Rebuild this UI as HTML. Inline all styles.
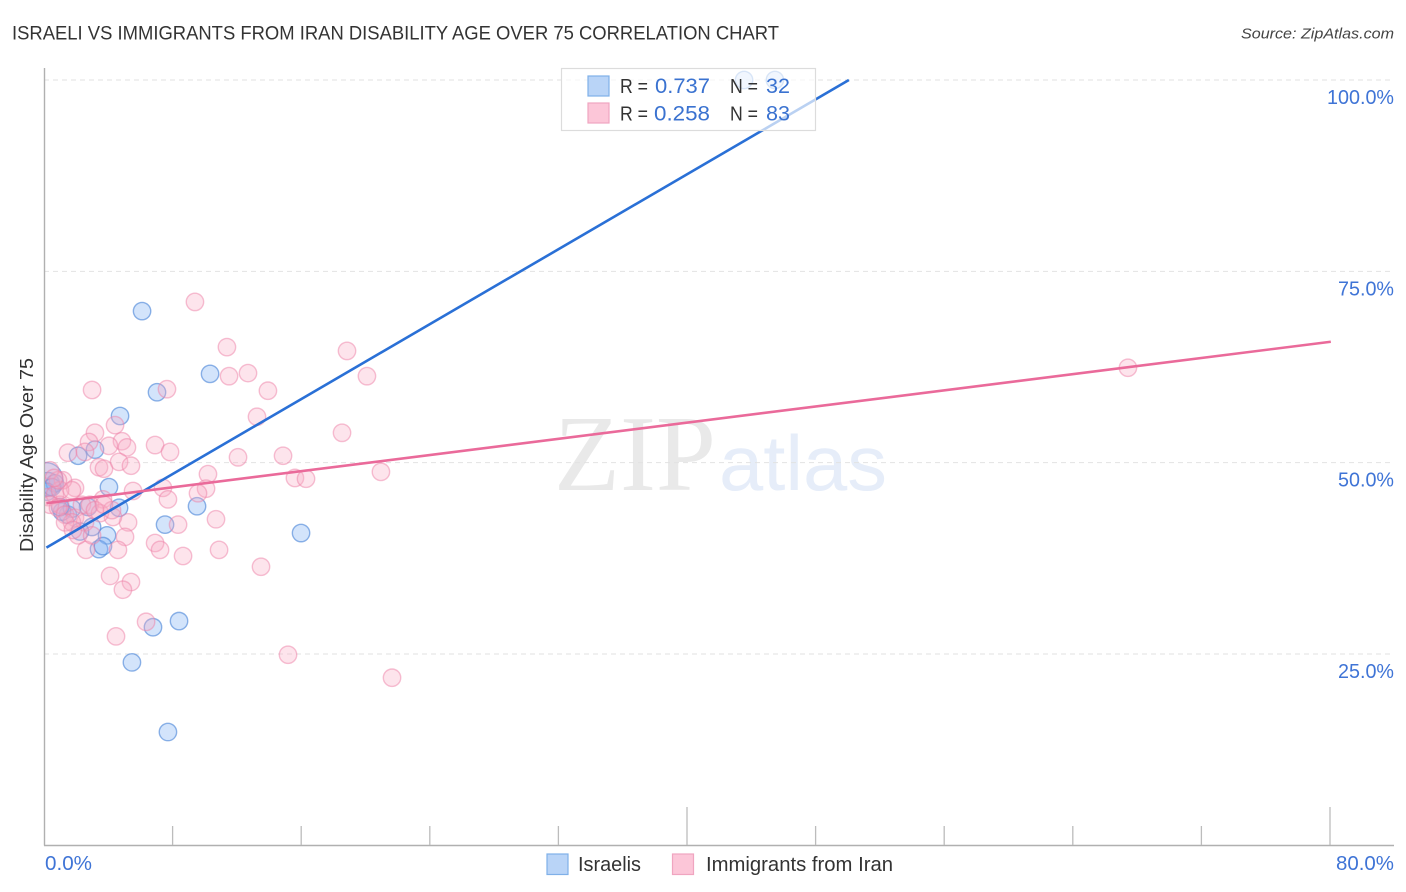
<!DOCTYPE html>
<html lang="en">
<head>
<meta charset="utf-8">
<title>Israeli vs Immigrants from Iran Disability Age Over 75 Correlation Chart</title>
<style>
html,body{margin:0;padding:0;background:#fff;width:1406px;height:892px;overflow:hidden}
svg{display:block;font-family:"Liberation Sans",sans-serif}
</style>
</head>
<body>
<svg id="chart" width="1406" height="892" viewBox="0 0 1406 892" xmlns="http://www.w3.org/2000/svg">
  <defs>
    <clipPath id="plot-clip"><rect x="45" y="60" width="1349" height="785"/></clipPath>
  </defs>
  <text x="12" y="39.5" font-size="19" fill="#333" textLength="767" lengthAdjust="spacingAndGlyphs">ISRAELI VS IMMIGRANTS FROM IRAN DISABILITY AGE OVER 75 CORRELATION CHART</text>
  <text x="1241" y="38.5" font-size="15" font-style="italic" fill="#444" textLength="153" lengthAdjust="spacingAndGlyphs">Source: ZipAtlas.com</text>
  <g>
    <text x="554" y="490" font-family="'Liberation Serif',serif" font-size="108" fill="#e9e9e9" textLength="162" lengthAdjust="spacingAndGlyphs">ZIP</text>
    <text x="719" y="490" font-size="78" fill="#e6edf9" textLength="168" lengthAdjust="spacingAndGlyphs">atlas</text>
  </g>
  <g id="grid"></g>
  <g id="axes"></g>
  <g id="blue-points" clip-path="url(#plot-clip)"></g>
  <g id="pink-points" clip-path="url(#plot-clip)"></g>
  <g id="trends"></g>
  <text transform="translate(33,455) rotate(-90)" font-size="18" fill="#333" text-anchor="middle" textLength="194" lengthAdjust="spacingAndGlyphs">Disability Age Over 75</text>
  <g id="tick-labels"></g>
  <g>
    <rect x="561.5" y="68.5" width="254" height="62" fill="#fff" fill-opacity="0.68" stroke="#dcdcdc" stroke-width="1.2"/>
    <rect x="588" y="76" width="21" height="20" fill="#b9d4f7" stroke="#7fb0e8" stroke-width="1.2"/>
    <rect x="588" y="103" width="21" height="20" fill="#fcc6d8" stroke="#f0a5c0" stroke-width="1.2"/>
    <text x="620" y="93" font-size="20" fill="#333" textLength="28" lengthAdjust="spacingAndGlyphs">R =</text>
    <text x="655" y="93" font-size="21" fill="#3a72d0" textLength="55" lengthAdjust="spacingAndGlyphs">0.737</text>
    <text x="730" y="93" font-size="20" fill="#333" textLength="28" lengthAdjust="spacingAndGlyphs">N =</text>
    <text x="766" y="93" font-size="21" fill="#3a72d0" textLength="24" lengthAdjust="spacingAndGlyphs">32</text>
    <text x="620" y="120.5" font-size="20" fill="#333" textLength="28" lengthAdjust="spacingAndGlyphs">R =</text>
    <text x="654" y="120.5" font-size="21" fill="#3a72d0" textLength="56" lengthAdjust="spacingAndGlyphs">0.258</text>
    <text x="730" y="120.5" font-size="20" fill="#333" textLength="28" lengthAdjust="spacingAndGlyphs">N =</text>
    <text x="766" y="120.5" font-size="21" fill="#3a72d0" textLength="24" lengthAdjust="spacingAndGlyphs">83</text>
  </g>
  <g>
    <g>
      <rect x="547" y="854" width="21" height="20.5" fill="#b9d4f7" stroke="#7fb0e8" stroke-width="1.2"/>
      <text x="578" y="871" font-size="20" fill="#333" textLength="63" lengthAdjust="spacingAndGlyphs">Israelis</text>
    </g>
    <g>
      <rect x="672.5" y="854" width="21" height="20.5" fill="#fcc6d8" stroke="#f0a5c0" stroke-width="1.2"/>
      <text x="706" y="871" font-size="20" fill="#333" textLength="187" lengthAdjust="spacingAndGlyphs">Immigrants from Iran</text>
    </g>
  </g>
</svg>
<script>
var yTickValues = [25, 50, 75, 100];
var yTickLabels = ["25.0%", "50.0%", "75.0%", "100.0%"];
var xTickValues = [8, 16, 24, 32, 40, 48, 56, 64, 72, 80];
var xTallTicks = [40, 80];
var xEndLabels = ["0.0%", "80.0%"];

var israeliX = [6.10,10.33,7.03,4.73,2.12,3.17,4.04,4.67,9.52,7.53,15.99,3.92,3.42,3.67,2.74,2.99,1.49,1.12,2.24,8.40,6.78,5.47,7.71,43.55,45.47,0.12,0.25,0.68,0.19,0.50,1.74,1.00];
var israeliY = [69.8,61.6,59.2,56.1,50.9,51.7,46.8,44.1,44.3,41.9,40.8,40.5,38.7,39.1,44.2,41.6,43.2,43.6,41.0,29.3,28.5,23.9,14.8,100,100,47.8,47.2,47.3,46.2,46.8,44.0,44.2];
var israeliWeight = [1,1,1,1,1,1,1,1,1,1,1,1,1,1,1,1,1,1,1,1,1,1,1,1,1,3.8,1.8,1,1,1,1,1];

var iranX = [13.25,4.42,3.17,2.80,4.85,4.04,5.16,1.49,2.55,6.91,7.84,12.07,4.67,3.42,3.73,5.41,10.20,5.54,10.08,9.58,7.40,7.71,1.93,3.67,1.18,10.70,8.34,5.23,4.29,5.04,6.91,7.22,8.65,10.89,4.60,2.61,13.50,4.11,5.41,4.91,9.39,11.38,11.51,12.69,18.85,20.09,13.93,7.65,2.99,18.54,14.87,15.61,16.30,20.96,67.43,6.35,4.48,15.18,21.65,0.25,0.68,1.00,0.37,0.87,1.31,1.93,2.36,2.86,3.48,2.55,1.74,2.12,1.31,2.99,1.00,1.74,0.37,0.87,3.17,4.23,1.80,0.62,3.73];
var iranY = [56.0,54.9,53.9,52.7,52.8,52.2,52.0,51.3,51.4,52.3,51.4,50.7,50.1,49.4,49.2,49.6,48.5,46.3,46.6,46.0,46.7,45.2,46.7,45.2,47.7,42.6,41.9,42.2,42.9,40.3,39.5,38.6,37.8,38.6,38.6,38.6,36.4,35.2,34.4,33.4,71.0,65.1,61.3,61.7,64.6,61.3,59.4,59.6,59.5,53.9,50.9,48.0,47.9,48.8,62.4,29.2,27.3,24.9,21.9,45.5,45.8,44.5,44.5,44.1,43.2,42.8,44.5,44.5,43.4,42.2,42.2,40.5,42.2,40.5,46.4,46.4,49.0,47.7,43.8,43.8,41.2,48.0,44.5];

var israeliTrendX = [0.15, 50.07];
var israeliTrendY = [38.9, 100];
var iranTrendX = [0.15, 80.05];
var iranTrendY = [44.7, 65.8];

var NS = 'http://www.w3.org/2000/svg';
function sx(v){ return 44 + v * 16.075; }
function sy(v){ return 845.3 - v * 7.653; }
function mk(tag, parent, attrs){
  var el = document.createElementNS(NS, tag);
  for (var k in attrs) el.setAttribute(k, attrs[k]);
  parent.appendChild(el);
  return el;
}

var grid = document.getElementById('grid');
yTickValues.forEach(function(v){
  var gl = mk('line', grid, {x1:44, x2:1394, y1:sy(v), y2:sy(v), stroke:'#e2e2e2', 'stroke-width':1, 'stroke-dasharray':'5 4'});
  
  
});

var axes = document.getElementById('axes');
var yAxis = mk('line', axes, {x1:44.5, x2:44.5, y1:68, y2:845.5, stroke:'#b0b0b0', 'stroke-width':1.4});


var xAxis = mk('line', axes, {x1:44, x2:1394, y1:845.5, y2:845.5, stroke:'#b0b0b0', 'stroke-width':1.4});


xTickValues.forEach(function(v){
  var tall = xTallTicks.indexOf(v) >= 0;
  var t = mk('line', axes, {x1:sx(v), x2:sx(v), y1:tall ? 807 : 826, y2:845, stroke:'#bcbcbc', 'stroke-width':1.3});
  
  
});

function drawPoints(group, xs, ys, weights, fill, stroke){
  xs.forEach(function(x, i){
    var w = weights ? weights[i] : 1;
    var c = mk('circle', group, {cx:sx(x), cy:sy(ys[i]), r:8.7 * Math.sqrt(w), fill:fill, stroke:stroke, 'stroke-width':1.4});
    
    
  });
}
drawPoints(document.getElementById('blue-points'), israeliX, israeliY, israeliWeight, 'rgba(140,185,245,0.38)', 'rgba(70,130,215,0.6)');
drawPoints(document.getElementById('pink-points'), iranX, iranY, null, 'rgba(250,170,195,0.32)', 'rgba(238,130,168,0.5)');

var trends = document.getElementById('trends');
var bl = mk('line', trends, {x1:sx(israeliTrendX[0]), y1:sy(israeliTrendY[0]), x2:sx(israeliTrendX[1]), y2:sy(israeliTrendY[1]), stroke:'#2a70d6', 'stroke-width':2.6});


var pl = mk('line', trends, {x1:sx(iranTrendX[0]), y1:sy(iranTrendY[0]), x2:sx(iranTrendX[1]), y2:sy(iranTrendY[1]), stroke:'#ea6a9a', 'stroke-width':2.6});



var labels = document.getElementById('tick-labels');
yTickValues.forEach(function(v, i){
  var t = mk('text', labels, {x:1394, y:sy(v) + 24, 'font-size':20, fill:'#3f74d6', 'text-anchor':'end'});
  
  
  t.setAttribute('textLength', v === 100 ? 67 : 56);
  t.setAttribute('lengthAdjust', 'spacingAndGlyphs');
  t.textContent = yTickLabels[i];
});
var x0 = mk('text', labels, {x:45, y:870, 'font-size':20, fill:'#3f74d6', textLength:47, lengthAdjust:'spacingAndGlyphs'});


x0.textContent = xEndLabels[0];
var x1 = mk('text', labels, {x:1394, y:870, 'font-size':20, fill:'#3f74d6', 'text-anchor':'end', textLength:58, lengthAdjust:'spacingAndGlyphs'});


x1.textContent = xEndLabels[1];
</script>
</body>
</html>
